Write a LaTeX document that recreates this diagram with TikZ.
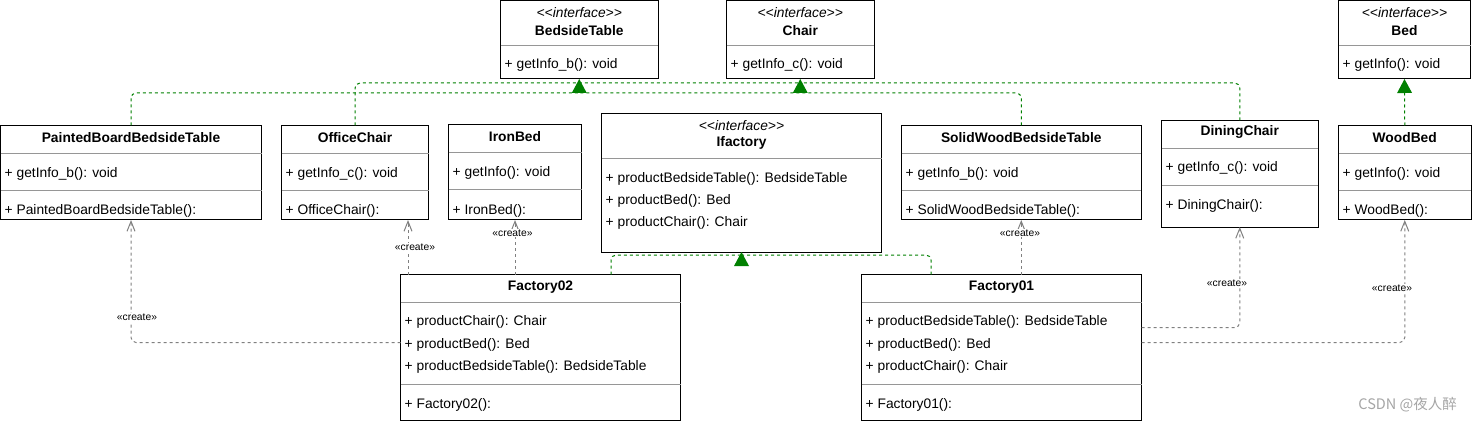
\documentclass[tikz,border=0pt]{standalone}
\usepackage{fontspec}
\setmainfont{Liberation Sans}
\newfontfamily\cjkfont{Noto Sans CJK SC}
\usetikzlibrary{arrows.meta}
\definecolor{realgreen}{RGB}{0,128,0}
\definecolor{depgray}{RGB}{128,128,128}
\definecolor{divgray}{RGB}{150,150,150}
\definecolor{wmgray}{RGB}{165,165,165}
\newcommand\memfont{\fontsize{13.8}{16}\selectfont}
\newcommand\ttlfont{\fontsize{13.8}{16}\selectfont\bfseries}
\newcommand\sterfont{\fontsize{13.8}{16}\selectfont\itshape}
\newcommand\lblfont{\fontsize{10.3}{12}\selectfont}
\tikzset{
  cls/.style={draw=black, line width=1pt, fill=white, inner sep=0pt, outer sep=0pt, anchor=north west},
  mem/.style={anchor=west, inner sep=0pt, font=\memfont, yshift=-1.5pt},
  ttl/.style={inner sep=0pt, font=\ttlfont, yshift=-0.7pt},
  ster/.style={inner sep=0pt, font=\sterfont},
  divline/.style={draw=divgray, line width=1pt},
  real/.style={draw=realgreen, line width=1pt, dash pattern=on 3pt off 3pt, rounded corners=5pt},
  realtip/.style={real, -{Triangle[length=14pt,width=15pt,line width=0pt,fill=realgreen]}},
  dep/.style={draw=depgray, line width=1pt, dash pattern=on 3pt off 3pt, rounded corners=5pt, -{Straight Barb[length=10pt,width=8pt]}},
  lbl/.style={font=\lblfont, fill=white, inner sep=1pt},
}
\begin{document}
\begin{tikzpicture}[x=1pt,y=-1pt]
\useasboundingbox (0,0) rectangle (1472,422);

% ---------- interfaces ----------
\node[cls, minimum width=157.5pt, minimum height=78.5pt] (bt) at (500.5,0.5) {};
\draw[divline] (500.5,45.5) -- (658,45.5);
\node[ster] (bt-s) at (579.25,12.5) {<{}<interface>{}>};
\node[ttl] (bt-t) at (579.25,29.5) {BedsideTable};
\node[mem] (bt-a) at (504.5,63.5) {+ getInfo\_b(): void};

\node[cls, minimum width=147.5pt, minimum height=78.5pt] (ch) at (726.5,0.5) {};
\draw[divline] (726.5,45.5) -- (874,45.5);
\node[ster] (ch-s) at (800.25,12.5) {<{}<interface>{}>};
\node[ttl] (ch-t) at (800.25,29.5) {Chair};
\node[mem] (ch-a) at (730.5,63.5) {+ getInfo\_c(): void};

\node[cls, minimum width=132pt, minimum height=78.5pt] (bd) at (1338.5,0.5) {};
\draw[divline] (1338.5,45.5) -- (1470.5,45.5);
\node[ster] (bd-s) at (1404.5,12.5) {<{}<interface>{}>};
\node[ttl] (bd-t) at (1404.5,29.5) {Bed};
\node[mem] (bd-a) at (1342.5,63.5) {+ getInfo(): void};

% ---------- products ----------
\node[cls, minimum width=261pt, minimum height=94.5pt] (pb) at (0.5,125.5) {};
\draw[divline] (0.5,153.5) -- (261.5,153.5);
\draw[divline] (0.5,190.5) -- (261.5,190.5);
\node[ttl] (pb-t) at (131,137) {PaintedBoardBedsideTable};
\node[mem] (pb-a) at (4.5,172) {+ getInfo\_b(): void};
\node[mem] (pb-m) at (4.5,209) {+ PaintedBoardBedsideTable():};

\node[cls, minimum width=147pt, minimum height=94.5pt] (oc) at (281.5,125.5) {};
\draw[divline] (281.5,153.5) -- (428.5,153.5);
\draw[divline] (281.5,190.5) -- (428.5,190.5);
\node[ttl] (oc-t) at (355,137) {OfficeChair};
\node[mem] (oc-a) at (285.5,172) {+ getInfo\_c(): void};
\node[mem] (oc-m) at (285.5,209) {+ OfficeChair():};

\node[cls, minimum width=133pt, minimum height=95.5pt] (ib) at (448.5,124.5) {};
\draw[divline] (448.5,152.5) -- (581.5,152.5);
\draw[divline] (448.5,189.5) -- (581.5,189.5);
\node[ttl] (ib-t) at (515,136) {IronBed};
\node[mem] (ib-a) at (452.5,171.5) {+ getInfo(): void};
\node[mem] (ib-m) at (452.5,209) {+ IronBed():};

\node[cls, minimum width=239.5pt, minimum height=94.5pt] (sw) at (901.5,125.5) {};
\draw[divline] (901.5,153.5) -- (1141,153.5);
\draw[divline] (901.5,190.5) -- (1141,190.5);
\node[ttl] (sw-t) at (1021.25,137) {SolidWoodBedsideTable};
\node[mem] (sw-a) at (905.5,172) {+ getInfo\_b(): void};
\node[mem] (sw-m) at (905.5,209) {+ SolidWoodBedsideTable():};

\node[cls, minimum width=156.5pt, minimum height=106.5pt] (dc) at (1161.5,120.5) {};
\draw[divline] (1161.5,148.5) -- (1318,148.5);
\draw[divline] (1161.5,185.5) -- (1318,185.5);
\node[ttl] (dc-t) at (1239.75,131.7) {DiningChair};
\node[mem] (dc-a) at (1165.5,166.7) {+ getInfo\_c(): void};
\node[mem] (dc-m) at (1165.5,204) {+ DiningChair():};

\node[cls, minimum width=132.5pt, minimum height=94.5pt] (wb) at (1338.5,125.5) {};
\draw[divline] (1338.5,153.5) -- (1471,153.5);
\draw[divline] (1338.5,190.5) -- (1471,190.5);
\node[ttl] (wb-t) at (1404.75,137) {WoodBed};
\node[mem] (wb-a) at (1342.5,172) {+ getInfo(): void};
\node[mem] (wb-m) at (1342.5,209) {+ WoodBed():};

% ---------- factory interface ----------
\node[cls, minimum width=280pt, minimum height=138.5pt] (ifa) at (601.5,113.5) {};
\draw[divline] (601.5,158.5) -- (881.5,158.5);
\node[ster] (ifa-s) at (741.5,126) {<{}<interface>{}>};
\node[ttl] (ifa-t) at (741.5,142.5) {Ifactory};
\node[mem] (ifa-1) at (605.5,177) {+ productBedsideTable(): BedsideTable};
\node[mem] (ifa-2) at (605.5,199) {+ productBed(): Bed};
\node[mem] (ifa-3) at (605.5,221) {+ productChair(): Chair};

% ---------- factories ----------
\node[cls, minimum width=280pt, minimum height=146pt] (f2) at (400.5,274.5) {};
\draw[divline] (400.5,302) -- (680.5,302);
\draw[divline] (400.5,384) -- (680.5,384);
\node[ttl] (f2-t) at (540.5,286.5) {Factory02};
\node[mem] (f2-1) at (404.5,320.5) {+ productChair(): Chair};
\node[mem] (f2-2) at (404.5,343) {+ productBed(): Bed};
\node[mem] (f2-3) at (404.5,365.5) {+ productBedsideTable(): BedsideTable};
\node[mem] (f2-m) at (404.5,403) {+ Factory02():};

\node[cls, minimum width=280pt, minimum height=146pt] (f1) at (861.5,274.5) {};
\draw[divline] (861.5,302) -- (1141.5,302);
\draw[divline] (861.5,384) -- (1141.5,384);
\node[ttl] (f1-t) at (1001.5,286.5) {Factory01};
\node[mem] (f1-1) at (865.5,320.5) {+ productBedsideTable(): BedsideTable};
\node[mem] (f1-2) at (865.5,343) {+ productBed(): Bed};
\node[mem] (f1-3) at (865.5,365.5) {+ productChair(): Chair};
\node[mem] (f1-m) at (865.5,403) {+ Factory01():};

% ---------- realizations (green) ----------
\draw[real] (pb.north) |- (bt.south |- 0,93);
\draw[real] (sw.north) |- (bt.south |- 0,93);
\draw[real] (oc.north) |- (ch.south |- 0,83);
\draw[real] (dc.north) |- (ch.south |- 0,83);
\draw[realtip] (bt.south |- 0,93) -- (bt.south);
\draw[realtip] (ch.south |- 0,93) -- (ch.south);
\draw[realtip] (wb.north) -- (bd.south);
\draw[real] (f2.north -| 611,0) |- (ifa.south |- 0,255);
\draw[real] (f1.north -| 931,0) |- (ifa.south |- 0,255);
\draw[realtip] (ifa.south |- 0,266) -- (ifa.south);

% ---------- create dependencies (gray) ----------
\draw[dep] (f2.west |- 0,342.5) -| (pb.south);
\draw[dep] (f2.north -| 408,0) -- (oc.south -| 408,0);
\draw[dep] (f2.north -| ib.south) -- (ib.south);
\draw[dep] (f1.north -| sw.south) -- (sw.south);
\draw[dep] (f1.east |- 0,327.5) -| (dc.south);
\draw[dep] (f1.east |- 0,342.5) -| (wb.south);

\node[lbl] (l-pb) at (137,317.5) {«create»};
\node[lbl] (l-oc) at (415,247) {«create»};
\node[lbl] (l-ib) at (512.5,233) {«create»};
\node[lbl] (l-sw) at (1020,233) {«create»};
\node[lbl] (l-dc) at (1227,283) {«create»};
\node[lbl] (l-wb) at (1392,288.5) {«create»};

% ---------- watermark ----------
\node[anchor=east, inner sep=0pt, text=wmgray, font=\cjkfont\fontsize{14.5}{16}\selectfont] (wm) at (1457,405) {CSDN @夜人醉};
\end{tikzpicture}
\end{document}
